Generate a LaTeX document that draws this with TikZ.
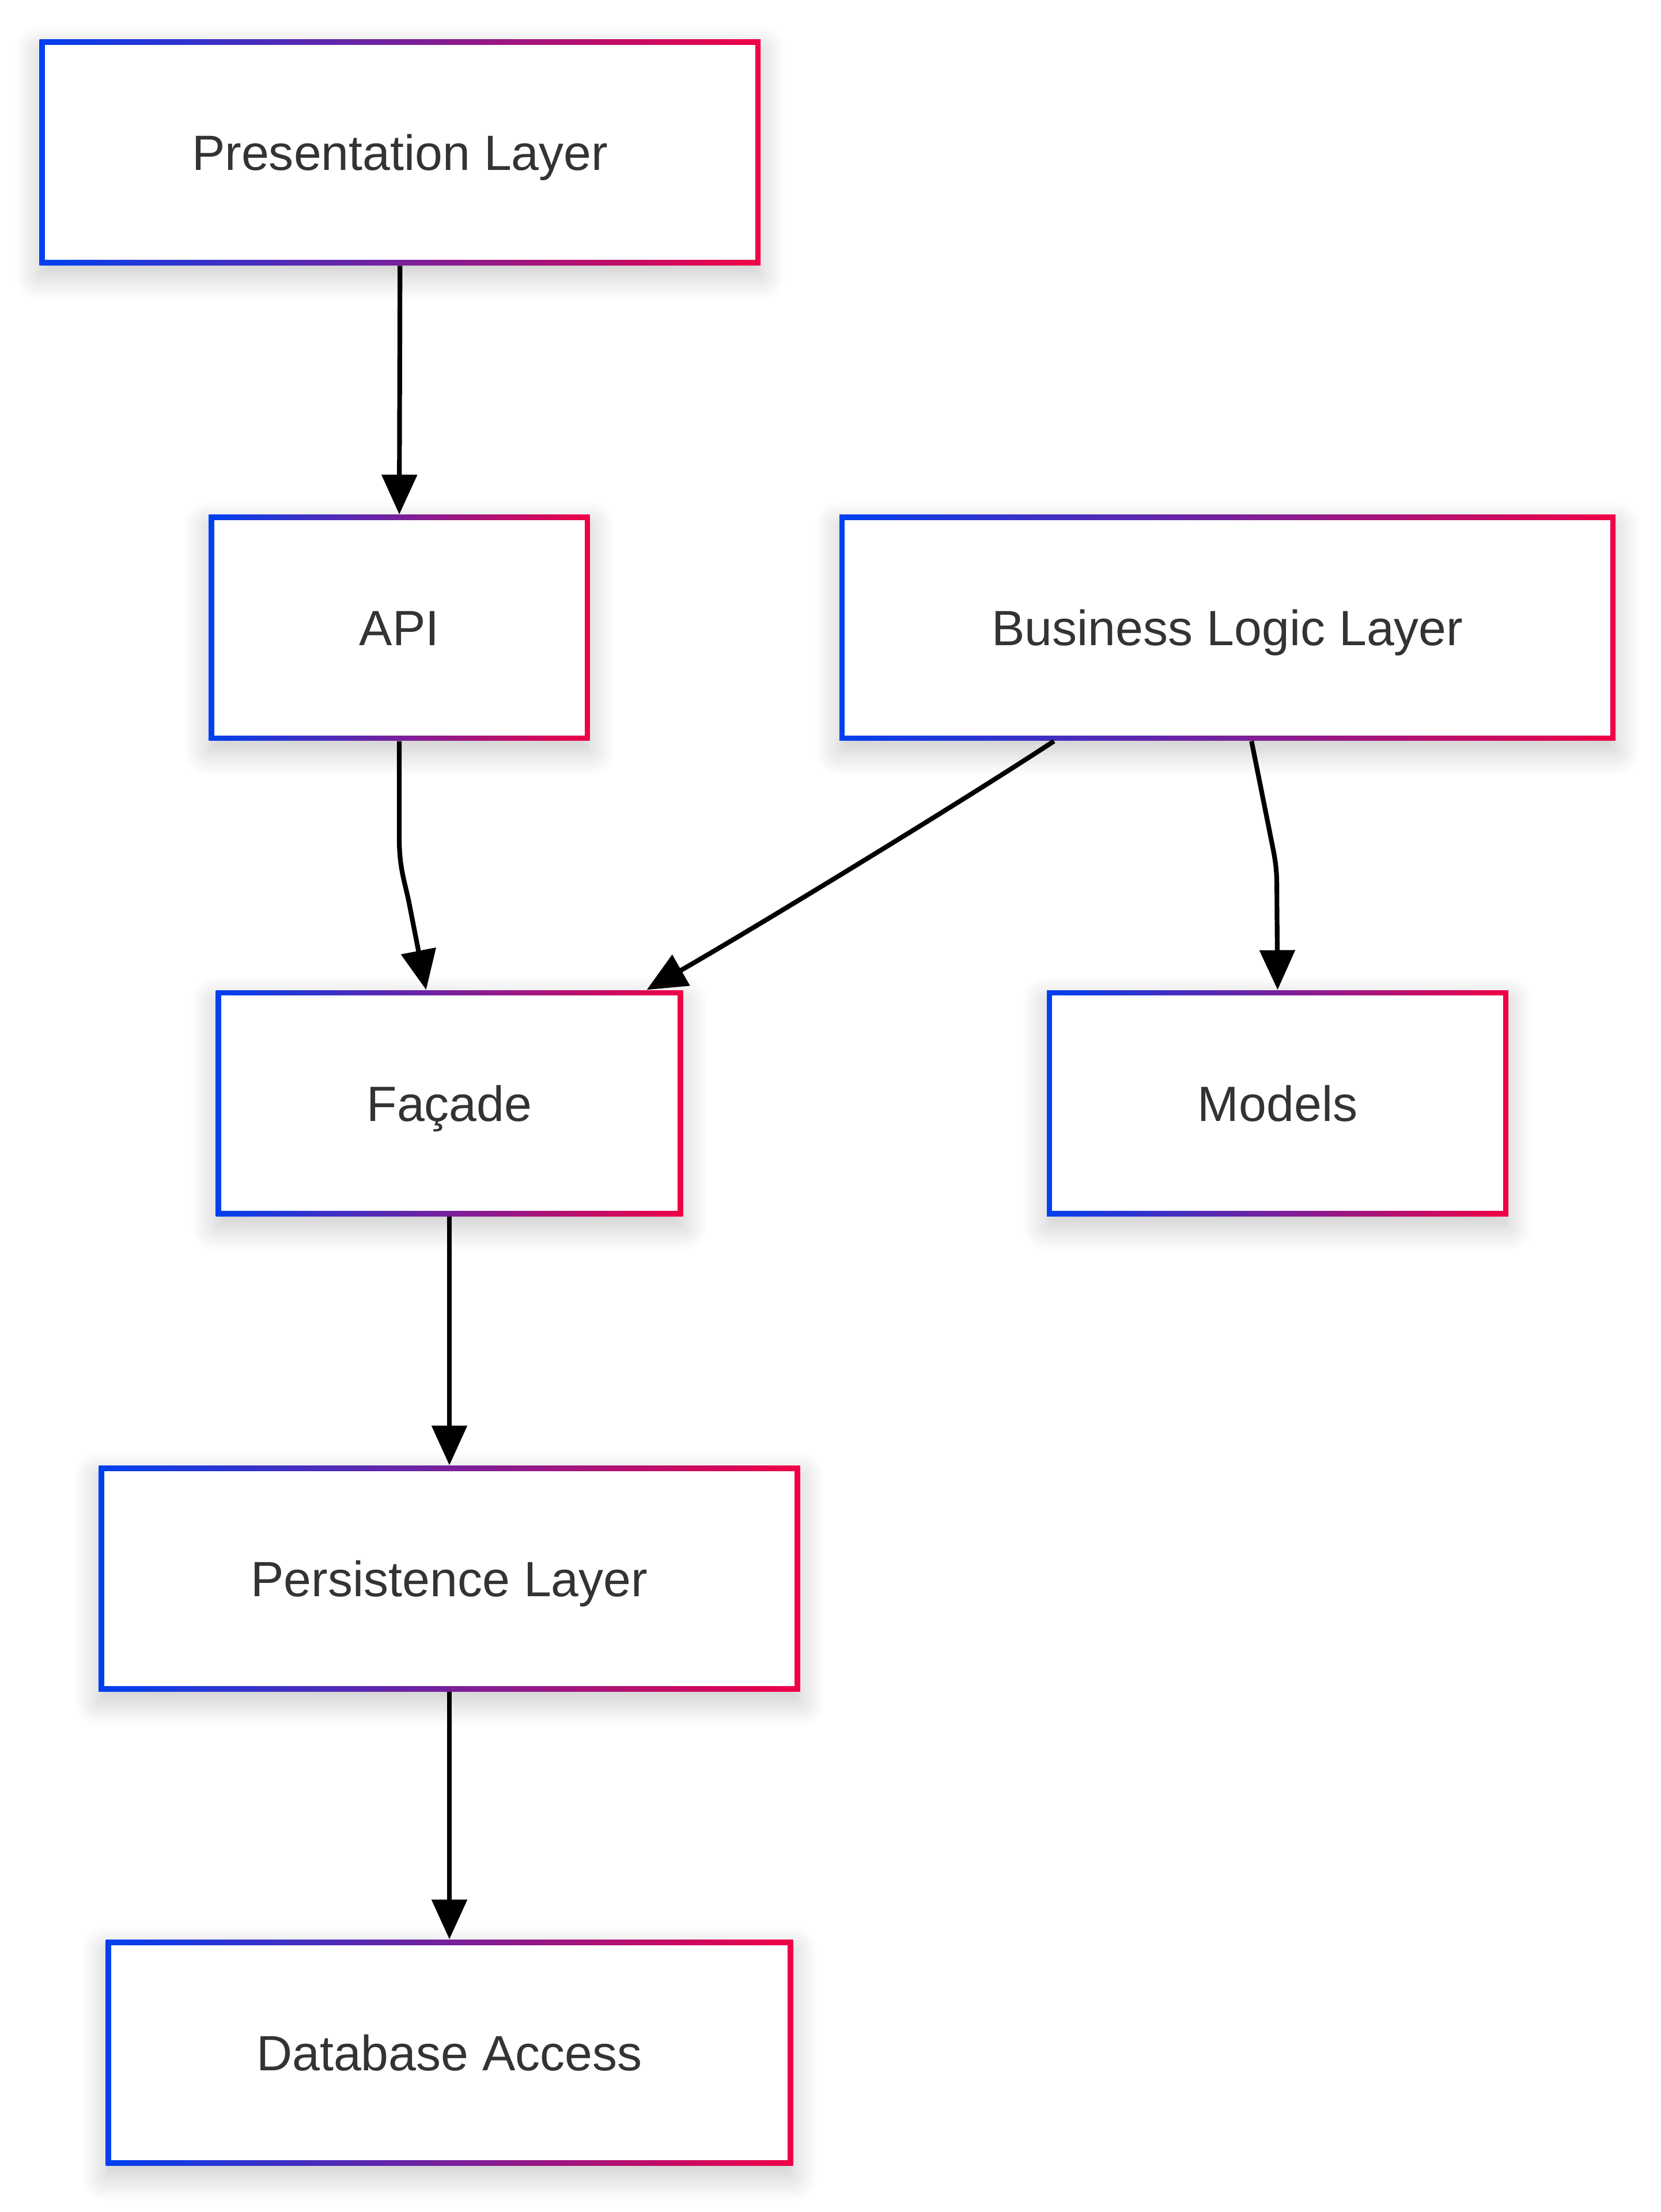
\documentclass[tikz,border=0pt]{standalone}
\usepackage{fontspec}
\setmainfont{Liberation Sans}
\usepackage{xcolor}
\definecolor{edgeblue}{RGB}{0,64,240}
\definecolor{edgered}{RGB}{240,0,70}
\definecolor{textcol}{RGB}{51,51,51}
\usepackage{tikz}
\usetikzlibrary{arrows.meta, positioning, calc, shadows.blur}

\tikzset{
  layer/.style={
    fill=white, minimum height=32mm, inner sep=0pt,
    text=textcol, font=\fontsize{20}{24}\selectfont,
    text height=14.4pt, text depth=0pt,
    blur shadow={shadow xshift=0pt, shadow yshift=-1.5mm,
                 shadow blur radius=3.5mm, shadow blur steps=12,
                 shadow opacity=22},
    path picture={
      \shade[left color=edgeblue, right color=edgered]
        (path picture bounding box.south west) rectangle
        (path picture bounding box.north east);
      \fill[white]
        ([shift={(0.75mm,0.75mm)}]path picture bounding box.south west) rectangle
        ([shift={(-0.75mm,-0.75mm)}]path picture bounding box.north east);
    }
  },
  flow/.style={-{Triangle[length=16pt, width=14pt]}, black, line width=1.9pt}
}

\begin{document}
\begin{tikzpicture}[x=0.2mm, y=-0.2mm]

  \useasboundingbox (0,0) rectangle (1177,1568);

  % Layers
  \node[layer, minimum width=102.2mm] (pres)    at (283.5,108)  {Presentation Layer};
  \node[layer, minimum width=54mm]    (api)     at (283,445)    {API};
  \node[layer, minimum width=110mm]   (bll)     at (870,445)    {Business Logic Layer};
  \node[layer, minimum width=66.2mm]  (facade)  at (318.5,782)  {Façade};
  \node[layer, minimum width=65.4mm]  (models)  at (905.5,782)  {Models};
  \node[layer, minimum width=99.4mm]  (persist) at (318.5,1119) {Persistence Layer};
  \node[layer, minimum width=97.4mm]  (db)      at (318.5,1455) {Database Access};

  % Connectors
  \draw[flow] (pres.south) -- (api.north);
  \draw[flow] (api.south) -- ++(0,70)
    .. controls +(0,20) and +(-3,-15) .. ++(7,45)
    -- ($(facade.north)+(-16.5,0)$);
  \draw[flow] ($(bll.south)+(-123,0)$)
    .. controls +(-70,46) and +(70,-40) .. ($(facade.north east)+(-26,0)$);
  \draw[flow] ($(bll.south)+(17,0)$) -- ++(15,75)
    .. controls +(3,15) and +(0,-20) .. ++(3,40)
    -- (models.north);
  \draw[flow] (facade.south) -- (persist.north);
  \draw[flow] (persist.south) -- (db.north);

\end{tikzpicture}
\end{document}
